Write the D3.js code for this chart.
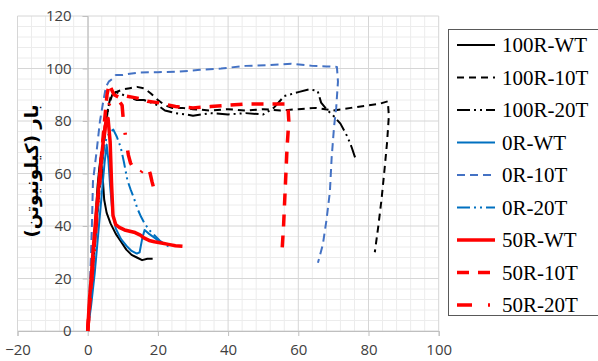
<!DOCTYPE html>
<html><head><meta charset="utf-8">
<script src="https://cdn.jsdelivr.net/npm/d3@7"></script>
<style>body{margin:0;background:#fff}svg{display:block}</style>
</head><body>
<svg id="c" width="598" height="361"></svg>
<script>
// ---- data ----
const xTicks = [-20, 0, 20, 40, 60, 80, 100];
const yTicks = [0, 20, 40, 60, 80, 100, 120];
const yTitle = "بار (کیلونیوتن)";
const seriesNames = ["100R-WT","100R-10T","100R-20T","0R-WT","0R-10T","0R-20T","50R-WT","50R-10T","50R-20T"];

const s100R_WT = [[0,0],[0.8,15],[1.5,28],[2.2,42],[2.8,55],[3.3,62],[3.7,66],[4.2,60],[4.7,50],[5.4,45],[6.5,41],[8,37],[9.5,34],[11,31],[12.5,29],[14,28],[15.5,27],[17,27.5],[18.5,27.5]];
const s100R_10T = [[0,0],[1,15],[2,32],[3,48],[4,62],[5,76],[5.8,85],[6.5,89],[8,91],[10,92],[12,92.5],[14,93],[16,92.5],[18,90.5],[20,88],[22,86],[24,85],[27,85],[30,84.5],[35,84],[40,84.5],[45,84],[50,84.5],[55,84],[60,84.5],[65,85],[70,84],[75,85],[80,86],[83,86.5],[85.5,87.5],[85.8,82],[85.3,72],[84.6,62],[83.7,50],[82.8,40],[81.8,30]];
const s100R_20T = [[0,0],[1,16],[2,33],[3,50],[4,65],[5,78],[6,86],[7,90],[8,91],[10,90],[12,89],[14,88],[16,88],[18,87],[20,86],[22,84],[25,83],[28,82.5],[30,82],[35,83],[40,82.5],[45,83],[50,82.5],[53,85],[56,89.5],[60,91],[63,92],[65.5,91.5],[66.5,87],[68,84.5],[70,82],[72,79],[74,74],[75.2,70],[76.2,66]];
const s0R_WT = [[0,0],[1,10],[2,22],[3,37],[4,52],[4.8,64],[5.4,71],[5.9,65],[6.4,55],[7,46],[8,39],[9.5,35],[11,32.5],[12.5,30.5],[14,29.5],[14.8,30],[15.5,35],[16.2,38.5],[17.5,37],[19,35.5],[20.5,34]];
const s0R_10T = [[0,0],[0.7,20],[1.2,40],[1.5,57],[2.5,68],[3.5,80],[4.5,88],[5.2,93],[6,95],[7,96],[8,97.5],[10,97.5],[12,98],[15,98.5],[20,98.6],[26,98.8],[32,99.5],[38,100],[45,101],[52,101.3],[58,101.8],[64,101],[68,100.8],[71,100.6],[71.3,95],[70.8,85],[70.2,78],[69.5,66],[69,53],[68,42],[67,33],[65.6,26]];
const s0R_20T = [[0,0],[1,15],[2,32],[3,48],[4,62],[4.6,70],[5.5,74],[6.5,76],[7.3,76.7],[8.3,74],[9.4,70],[10.3,64.5],[11.3,57.5],[12.2,54],[13.2,50.5],[14.2,46.5],[15.2,43.5],[16.2,41],[17.5,38.5],[19,36.5],[20.5,34.5],[22,33],[24,31.5]];
const s50R_WT = [[0,0],[0.5,12],[1,20],[1.5,30],[2,38],[2.5,46],[3,53],[3.5,60],[4,67],[4.5,73],[5,78],[5.8,81],[6.4,72],[6.8,56],[7.2,44],[8,40.5],[9,39.5],[10.5,38.5],[12,38],[13.5,37.5],[15,36.5],[16,35.5],[17.5,34.5],[19,34],[21,33.5],[23,33],[25,32.5],[27,32.3]];
const s50R_10T = [[0,0],[1,18],[2,35],[3,52],[4,68],[4.8,80],[5.5,90],[6.1,94],[6.8,92],[7.5,90],[9,89],[11,89.5],[13,89],[15,88.5],[17,87.5],[20,87],[25,85.5],[30,85],[35,85.5],[40,86],[45,86.5],[50,86.5],[55,86.5],[57,86.5],[57.3,80],[56.8,70],[56.3,55],[55.8,40],[55.3,29]];
const s50R_20T = [[0,0],[1,17],[2,33],[3,50],[4,65],[5,78],[6,86],[7,89],[8,88],[9,87.5],[9.8,86],[10.3,78],[10.7,75],[11.1,71],[11.6,67],[12.2,64],[13,62],[13.8,60],[14.7,59.5],[15.5,61],[16.5,63.5],[17.2,62],[17.8,60],[18.3,57],[18.7,55]];

const seriesData = [s100R_WT, s100R_10T, s100R_20T, s0R_WT, s0R_10T, s0R_20T, s50R_WT, s50R_10T, s50R_20T];

// ---- styles ----
const styles = [
  {c:"#000000", w:2,   d:null},
  {c:"#000000", w:2,   d:"7,5"},
  {c:"#000000", w:2,   d:"13,4,2,4,2,4"},
  {c:"#0070C0", w:2,   d:null},
  {c:"#4472C4", w:2,   d:"8,5"},
  {c:"#0070C0", w:2,   d:"13,4,2,4,2,4"},
  {c:"#FF0000", w:3.5, d:null},
  {c:"#FF0000", w:3.5, d:"12,9"},
  {c:"#FF0000", w:3.5, d:"15,16,2,16"}
];

const svg = d3.select("#c");
const x = d3.scaleLinear().domain([-20,100]).range([17.5,438.7]);
const y = d3.scaleLinear().domain([0,120]).range([331,16]);

// minor grid
const minorX = d3.range(-20,100.01,4).filter(v=>v%20!==0);
const minorY = d3.range(0,120.01,4).filter(v=>v%20!==0);
const g = svg.append("g");
g.selectAll(".mx").data(minorX).enter().append("line")
 .attr("x1",d=>x(d)).attr("x2",d=>x(d)).attr("y1",y(0)).attr("y2",y(120))
 .attr("stroke","#ececec").attr("stroke-width",1);
g.selectAll(".my").data(minorY).enter().append("line")
 .attr("y1",d=>y(d)).attr("y2",d=>y(d)).attr("x1",x(-20)).attr("x2",x(100))
 .attr("stroke","#ececec").attr("stroke-width",1);
// major grid
g.selectAll(".Mx").data(xTicks).enter().append("line")
 .attr("x1",d=>x(d)).attr("x2",d=>x(d)).attr("y1",y(0)).attr("y2",y(120))
 .attr("stroke","#d6d6d6").attr("stroke-width",1);
g.selectAll(".My").data(yTicks).enter().append("line")
 .attr("y1",d=>y(d)).attr("y2",d=>y(d)).attr("x1",x(-20)).attr("x2",x(100))
 .attr("stroke","#d6d6d6").attr("stroke-width",1);

// axes
const xAxis = d3.axisBottom(x).tickValues(xTicks).tickSize(5).tickPadding(8).tickFormat(d3.format("d"));
const xg = svg.append("g").attr("transform",`translate(0,${y(0)})`).call(xAxis);
xg.select(".domain").attr("stroke","#bfbfbf");
xg.selectAll(".tick line").attr("stroke","#bfbfbf");
xg.selectAll("text").attr("font-family","Open Sans, Liberation Sans, sans-serif").attr("font-size",15).attr("fill","#404040");

const yAxis = d3.axisLeft(y).tickValues(yTicks).tickSize(5).tickPadding(11).tickFormat(d3.format("d"));
const yg = svg.append("g").attr("transform",`translate(${x(0)},0)`).call(yAxis);
yg.select(".domain").attr("stroke","#bfbfbf");
yg.selectAll(".tick line").attr("stroke","#bfbfbf");
yg.selectAll("text").attr("font-family","Open Sans, Liberation Sans, sans-serif").attr("font-size",15).attr("fill","#404040");

// series
const line = d3.line().x(d=>x(d[0])).y(d=>y(d[1]));
seriesData.forEach((data,i)=>{
  const s = styles[i];
  svg.append("path").datum(data).attr("d",line)
    .attr("fill","none").attr("stroke",s.c).attr("stroke-width",s.w)
    .attr("stroke-dasharray",s.d).attr("stroke-linejoin","round");
});

// y title
svg.append("text").attr("transform","translate(31,171) rotate(-90)")
  .attr("text-anchor","middle").attr("dominant-baseline","central")
  .attr("font-family","DejaVu Sans, sans-serif")
  .attr("font-weight","bold").attr("font-size",18).attr("fill","#000")
  .attr("direction","rtl").attr("textLength",133).attr("lengthAdjust","spacingAndGlyphs")
  .text(yTitle);

// legend
const lg = svg.append("g");
lg.append("rect").attr("x",448.5).attr("y",29.5).attr("width",160).attr("height",286)
  .attr("fill","#fff").attr("stroke","#595959").attr("stroke-width",1);
const rowY = d3.scaleLinear().domain([0,8]).range([45,305]);
seriesNames.forEach((n,i)=>{
  const s = styles[i];
  const yy = rowY(i);
  lg.append("line").attr("x1",457).attr("x2",495).attr("y1",yy).attr("y2",yy)
    .attr("stroke",s.c).attr("stroke-width",s.w).attr("stroke-dasharray",s.d);
  lg.append("text").attr("x",502).attr("y",yy+7).attr("font-family","Liberation Serif, serif")
    .attr("font-size",21).attr("fill","#000").text(n);
});
</script>
</body></html>
